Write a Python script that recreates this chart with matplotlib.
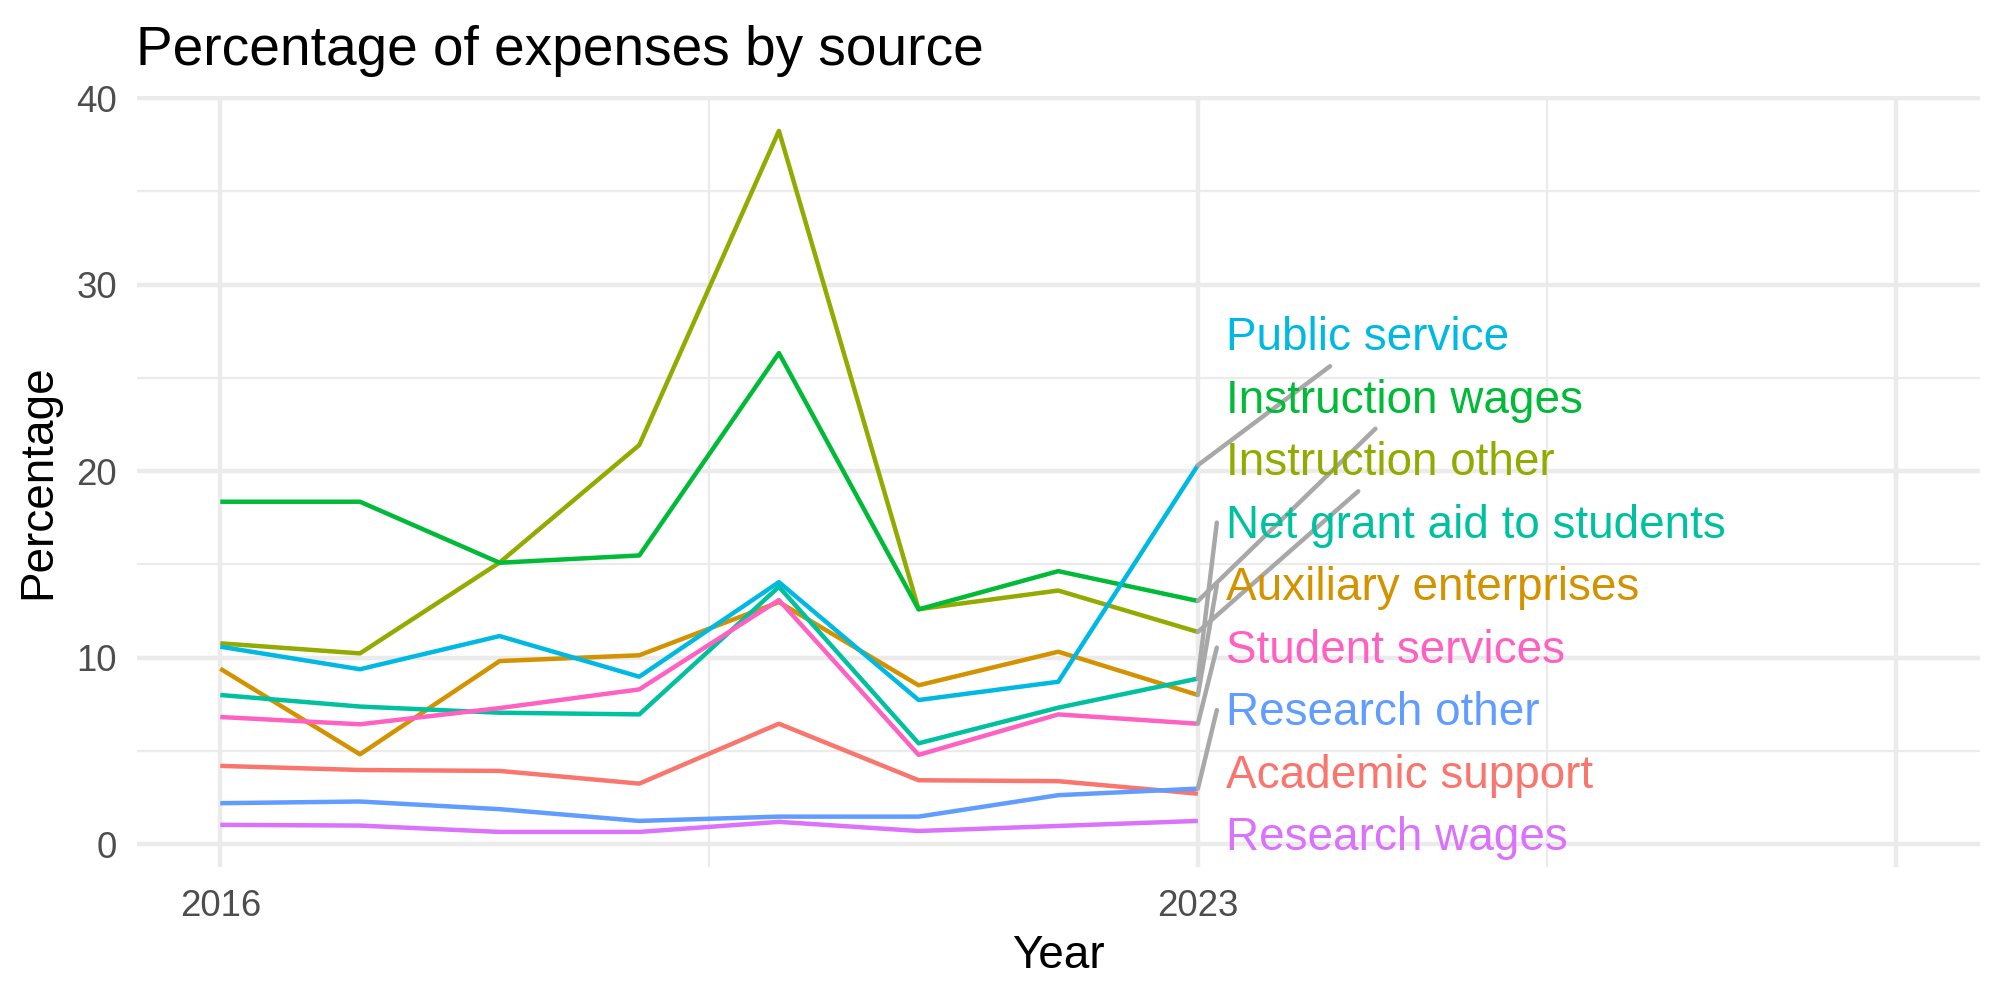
import matplotlib
matplotlib.use("Agg")
import matplotlib.pyplot as plt
import numpy as np

# %%
# data (percent of expenses, 2016-2023)
years = [2016, 2017, 2018, 2019, 2020, 2021, 2022, 2023]

academic_support = [4.2, 3.98, 3.93, 3.25, 6.46, 3.43, 3.38, 2.71]
auxiliary_enterprises = [9.41, 4.82, 9.82, 10.13, 12.98, 8.52, 10.32, 8.0]
instruction_other = [10.77, 10.23, 15.1, 21.4, 38.24, 12.6, 13.6, 11.38]
instruction_wages = [18.36, 18.36, 15.09, 15.48, 26.33, 12.59, 14.64, 13.04]
net_grant_aid = [8.0, 7.38, 7.05, 6.96, 13.8, 5.41, 7.32, 8.88]
public_service = [10.59, 9.38, 11.16, 8.98, 14.05, 7.73, 8.71, 20.32]
research_other = [2.2, 2.29, 1.88, 1.25, 1.48, 1.48, 2.63, 2.98]
research_wages = [1.04, 1.0, 0.66, 0.66, 1.2, 0.71, 0.98, 1.25]
student_services = [6.82, 6.43, 7.3, 8.3, 13.09, 4.79, 6.96, 6.46]

sources = ["Academic support", "Auxiliary enterprises", "Instruction other",
           "Instruction wages", "Net grant aid to students", "Public service",
           "Research other", "Research wages", "Student services"]
series = [academic_support, auxiliary_enterprises, instruction_other,
          instruction_wages, net_grant_aid, public_service,
          research_other, research_wages, student_services]
# ggplot default hue palette for 9 groups
colors = ["#F8766D", "#D39200", "#93AA00", "#00BA38", "#00C19F",
          "#00B9E3", "#619CFF", "#DB72FB", "#FF61C3"]

x_major = [2016, 2023, 2028]
x_major_labels = ["2016", "2023", ""]
x_minor = [2019.5, 2025.5]
y_major = [0, 10, 20, 30, 40]
y_minor = [5, 15, 25, 35]

# labels whose leader line points at the label centre (the rest go to the left edge)
centre_leaders = ["Public service", "Instruction wages", "Instruction other"]

# %%
plt.rcParams["font.family"] = ["Liberation Sans", "DejaVu Sans"]
fig = plt.figure(figsize=(20 / 3, 10 / 3), dpi=300)
ax = fig.add_axes([0.06825, 0.133, 0.92175, 0.7712])

for name, vals, col in zip(sources, series, colors):
    ax.plot(years, vals, color=col, lw=1.07, zorder=3, solid_capstyle="butt")

ax.set_xlim(2015.4, 2028.6)
ax.set_ylim(-1.22, 40.12)
ax.set_xticks(x_major)
ax.set_xticklabels(x_major_labels)
ax.set_xticks(x_minor, minor=True)
ax.set_yticks(y_major)
ax.set_yticks(y_minor, minor=True)
ax.grid(which="major", color="#EBEBEB", lw=1.07, zorder=0)
ax.grid(which="minor", color="#EBEBEB", lw=0.53, zorder=0)
ax.tick_params(which="both", length=0)
ax.tick_params(axis="x", pad=5.3, labelsize=8.8, labelcolor="#4D4D4D")
ax.tick_params(axis="y", pad=4.7, labelsize=8.8, labelcolor="#4D4D4D")
for s in ax.spines.values():
    s.set_visible(False)

ax.set_xlabel("Year", fontsize=11, labelpad=2.5)
ax.set_ylabel("Percentage", fontsize=11, labelpad=3.8)
ax.set_title("Percentage of expenses by source", fontsize=13.2, loc="left", pad=7.5)

# %%
# repel-style labels stacked to the right of the last year
last = [v[-1] for v in series]
order = np.argsort(last)  # bottom to top
label_x = years[-1] + 0.2
base0, step = -0.32, 3.35
label_size = 11.0
texts = {}
for rank, i in enumerate(order):
    t = ax.text(label_x, base0 + rank * step, sources[i], color=colors[i],
                fontsize=label_size, ha="left", va="baseline", zorder=4)
    texts[i] = t

fig.canvas.draw()
renderer = fig.canvas.get_renderer()
inv = ax.transData.inverted()
pad = 6
fs_px = label_size / 72 * 300
for i, t in texts.items():
    bb = t.get_window_extent(renderer)
    px, py = ax.transData.transform((years[-1], last[i]))
    bx, by = ax.transData.transform((label_x, t.get_position()[1]))
    if sources[i] in centre_leaders:
        left, right = bb.x0 - pad, bb.x1 + pad
        bottom, top = bb.y0 - pad, bb.y1 + pad
        cx, cy = (bb.x0 + bb.x1) / 2, (bb.y0 + bb.y1) / 2
        tx = 0.0
        if px < left:
            tx = (left - px) / (cx - px)
        ty = 0.0
        if py < bottom:
            ty = (bottom - py) / (cy - py)
        elif py > top:
            ty = (top - py) / (cy - py)
        tt = max(tx, ty)
        ex, ey = px + tt * (cx - px), py + tt * (cy - py)
    else:
        ex, ey = bb.x0 - 9, by + 0.33 * fs_px
    if np.hypot(ex - px, ey - py) < 40:
        continue
    (x0, y0), (x1, y1) = inv.transform([(px, py), (ex, ey)])
    ax.plot([x0, x1], [y0, y1], color="#A8A8A8", lw=1.07, zorder=3.5,
            solid_capstyle="round")

fig.savefig("out.png", dpi=300)
